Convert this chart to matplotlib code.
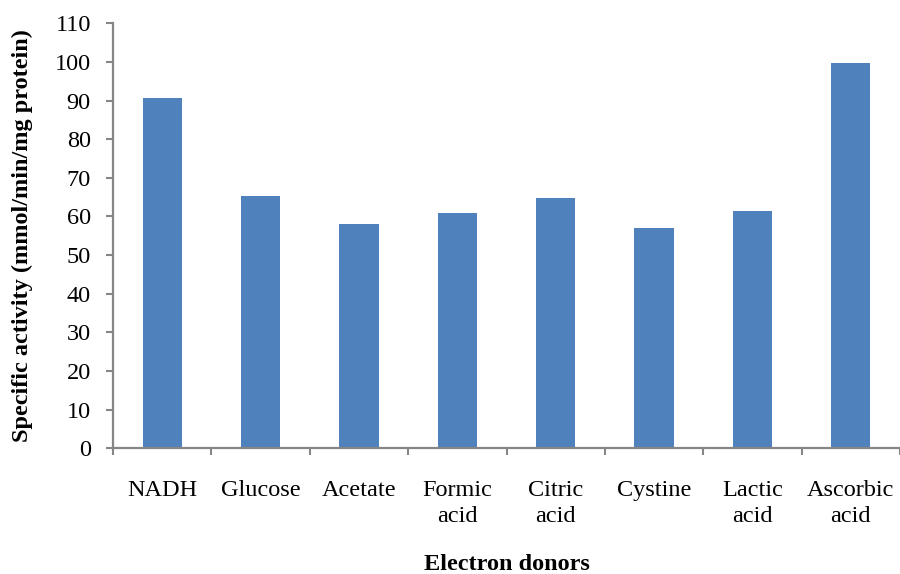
import matplotlib
matplotlib.use("Agg")
import matplotlib.pyplot as plt
import numpy as np

donors = ["NADH", "Glucose", "Acetate", "Formic\nacid", "Citric\nacid",
          "Cystine", "Lactic\nacid", "Ascorbic\nacid"]
activity = [90.7, 65.3, 58.1, 60.9, 64.9, 57.1, 61.5, 99.6]
y_ticks = list(range(0, 111, 10))

plt.rcParams["font.family"] = ["Liberation Serif", "DejaVu Serif"]
FS = 17.5

fig = plt.figure(figsize=(9, 5.74), dpi=100)
ax = fig.add_axes([0.1256, 0.219, 0.8744, 0.7404])

x = np.arange(len(donors))
ax.bar(x, activity, width=0.4, color="#4F81BD", zorder=2)

axis_grey = "#868686"
ax.set_xlim(-0.5, len(donors) - 0.5)
ax.set_ylim(0, 110)
ax.set_yticks(y_ticks)
ax.set_yticklabels([str(v) for v in y_ticks], fontsize=FS)

# category boundaries carry the tick marks; labels sit between them
ax.set_xticks(np.arange(len(donors) + 1) - 0.5)
ax.set_xticklabels([])
ax.set_xticks(x, minor=True)
ax.set_xticklabels(donors, minor=True, fontsize=FS, linespacing=1.3)
ax.tick_params(axis="x", which="minor", length=0, pad=23)
ax.tick_params(axis="x", which="major", length=5, width=1.5, color=axis_grey, direction="out")
ax.tick_params(axis="y", length=5, width=1.5, color=axis_grey, direction="out", pad=11)

for side in ("top", "right"):
    ax.spines[side].set_visible(False)
for side in ("left", "bottom"):
    ax.spines[side].set_color(axis_grey)
    ax.spines[side].set_linewidth(1.6)

ax.set_ylabel("Specific activity (mmol/min/mg protein)", fontsize=FS,
              fontweight="bold", va="center")
ax.yaxis.set_label_coords(-0.1156, 0.5)
ax.set_xlabel("Electron donors", fontsize=FS, fontweight="bold", va="center")
ax.xaxis.set_label_coords(0.5, -0.274)

fig.savefig("out.png", dpi=100, facecolor="white")
